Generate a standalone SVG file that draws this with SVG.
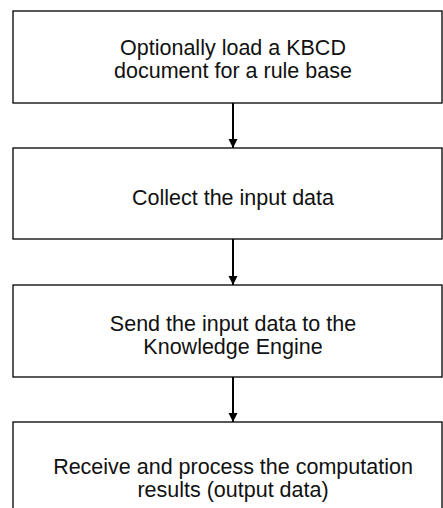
<svg xmlns="http://www.w3.org/2000/svg" width="443" height="508" viewBox="0 0 443 508">
<style>
.box{fill:#fff;stroke:#000;stroke-width:1.3}
.t{font-family:"Liberation Sans",Arial,sans-serif;font-size:21.5px;fill:#111;text-anchor:middle}
.c{stroke:#000;stroke-width:2;fill:none}
</style>
<defs>
<marker id="ah" markerUnits="userSpaceOnUse" markerWidth="10" markerHeight="10" refX="9" refY="4.5" orient="auto">
<path d="M0,0 L9,4.5 L0,9 Z" fill="#000"/>
</marker>
</defs>
<rect width="443" height="508" fill="#fff"/>
<g id="connectors">
<line class="c" x1="233" y1="103" x2="233" y2="148" marker-end="url(#ah)"/>
<line class="c" x1="233" y1="239" x2="233" y2="285" marker-end="url(#ah)"/>
<line class="c" x1="233" y1="377" x2="233" y2="422" marker-end="url(#ah)"/>
</g>
<g id="n1">
<rect class="box" x="13" y="11" width="429" height="92"/>
<text class="t" x="233" y="54.5">Optionally load a KBCD</text>
<text class="t" x="233" y="77.5">document for a rule base</text>
</g>
<g id="n2">
<rect class="box" x="13" y="148" width="429" height="91"/>
<text class="t" x="233" y="205">Collect the input data</text>
</g>
<g id="n3">
<rect class="box" x="13" y="285" width="429" height="92"/>
<text class="t" x="233" y="331">Send the input data to the</text>
<text class="t" x="233" y="354">Knowledge Engine</text>
</g>
<g id="n4">
<rect class="box" x="13" y="422" width="429" height="100"/>
<text class="t" x="233" y="474">Receive and process the computation</text>
<text class="t" x="233" y="497">results (output data)</text>
</g>
</svg>
